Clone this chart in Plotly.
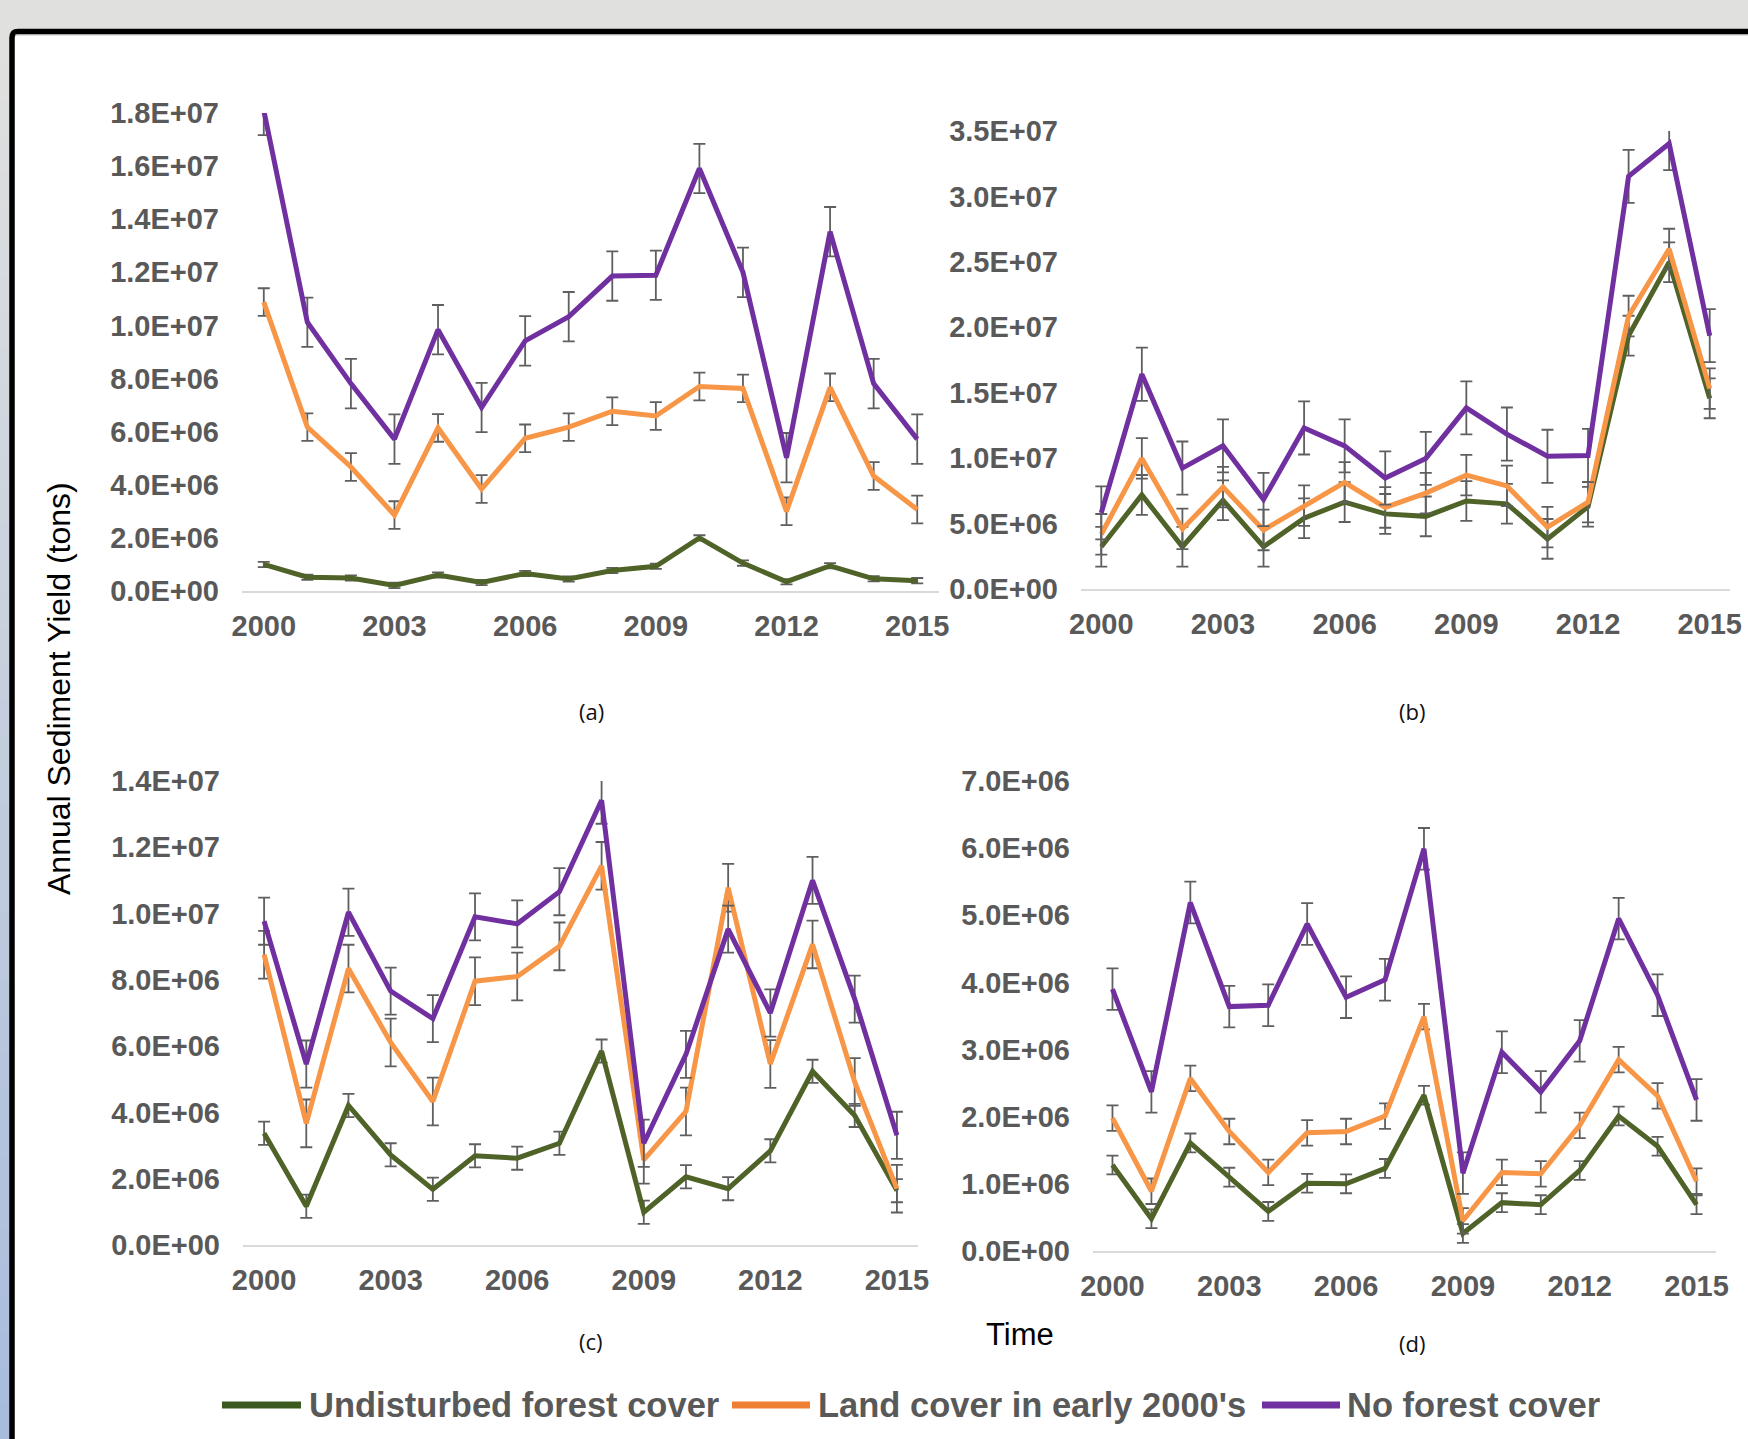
import plotly.graph_objects as go

W, H = 1748, 1439

years = list(range(2000, 2016))
year_ticks = [2000, 2003, 2006, 2009, 2012, 2015]

series_names = ["Undisturbed forest cover", "Land cover in early 2000's", "No forest cover"]

# Panel (a)
a_undisturbed = [1.00e6, 0.52e6, 0.49e6, 0.21e6, 0.60e6, 0.32e6, 0.66e6, 0.45e6,
                 0.77e6, 0.93e6, 2.00e6, 1.05e6, 0.35e6, 0.95e6, 0.46e6, 0.39e6]
a_early2000 = [10.88e6, 6.17e6, 4.67e6, 2.86e6, 6.14e6, 3.84e6, 5.75e6, 6.17e6,
               6.77e6, 6.59e6, 7.70e6, 7.63e6, 3.00e6, 7.67e6, 4.33e6, 3.07e6]
a_noforest = [18.10e6, 10.12e6, 7.81e6, 5.72e6, 9.84e6, 6.91e6, 9.42e6, 10.33e6,
              11.86e6, 11.89e6, 15.91e6, 12.00e6, 5.02e6, 13.53e6, 7.81e6, 5.72e6]
a_err = [0.10e6, 0.52e6, 0.93e6]

# Panel (b)
b_undisturbed = [3.23e6, 7.19e6, 3.23e6, 6.78e6, 3.23e6, 5.41e6, 6.64e6, 5.74e6,
                 5.55e6, 6.73e6, 6.51e6, 3.83e6, 6.29e6, 19.36e6, 24.97e6, 14.57e6]
b_early2000 = [4.18e6, 9.98e6, 4.59e6, 7.79e6, 4.51e6, 6.37e6, 8.15e6, 6.23e6,
               7.33e6, 8.70e6, 7.88e6, 4.73e6, 6.64e6, 20.86e6, 25.98e6, 15.31e6]
b_noforest = [5.82e6, 16.41e6, 9.24e6, 10.94e6, 6.84e6, 12.31e6, 10.94e6, 8.48e6,
              9.98e6, 13.84e6, 11.84e6, 10.14e6, 10.20e6, 31.53e6, 34.04e6, 19.36e6]
b_err = [1.52e6, 1.55e6, 2.03e6]

# Panel (c)
c_undisturbed = [3.37e6, 1.17e6, 4.21e6, 2.72e6, 1.68e6, 2.69e6, 2.62e6, 3.07e6,
                 5.85e6, 0.99e6, 2.06e6, 1.70e6, 2.84e6, 5.24e6, 3.91e6, 1.64e6]
c_early2000 = [8.76e6, 3.67e6, 8.34e6, 6.11e6, 4.33e6, 7.96e6, 8.10e6, 9.01e6,
               11.44e6, 2.57e6, 4.03e6, 10.78e6, 5.46e6, 9.07e6, 4.92e6, 1.70e6]
c_noforest = [9.77e6, 5.46e6, 10.04e6, 7.66e6, 6.83e6, 9.90e6, 9.69e6, 10.66e6,
              13.42e6, 3.07e6, 5.75e6, 9.53e6, 7.00e6, 11.00e6, 7.42e6, 3.31e6]
c_err = [0.35e6, 0.72e6, 0.71e6]

# Panel (d)
d_undisturbed = [1.28e6, 0.48e6, 1.61e6, 1.10e6, 0.59e6, 1.01e6, 1.00e6, 1.23e6,
                 2.32e6, 0.26e6, 0.72e6, 0.69e6, 1.20e6, 2.01e6, 1.56e6, 0.69e6]
d_early2000 = [1.98e6, 0.89e6, 2.57e6, 1.78e6, 1.17e6, 1.76e6, 1.78e6, 2.01e6,
               3.49e6, 0.45e6, 1.17e6, 1.15e6, 1.87e6, 2.85e6, 2.31e6, 1.04e6]
d_noforest = [3.90e6, 2.37e6, 5.19e6, 3.64e6, 3.66e6, 4.87e6, 3.78e6, 4.04e6,
              5.99e6, 1.16e6, 2.96e6, 2.37e6, 3.13e6, 4.95e6, 3.81e6, 2.25e6]
d_err = [0.14e6, 0.19e6, 0.31e6]

# y-axis tick values per panel
a_yticks = [i * 2e6 for i in range(10)]
b_yticks = [i * 5e6 for i in range(8)]
c_yticks = [i * 2e6 for i in range(8)]
d_yticks = [i * 1e6 for i in range(8)]

panel_labels = ["(a)", "(b)", "(c)", "(d)"]

line_colors = ["#4F6228", "#F79646", "#7030A0"]
legend_colors = ["#3B5A1F", "#EF7F32", "#7030A0"]
err_color = "#5F5F5F"
tick_color = "#595959"


def px(x):
    return x / W


def py(y):
    return 1 - y / H


panels = [
    dict(series=[a_undisturbed, a_early2000, a_noforest], err=a_err, yticks=a_yticks,
         box=(242, 939, 113, 591), label_pos=(591, 711)),
    dict(series=[b_undisturbed, b_early2000, b_noforest], err=b_err, yticks=b_yticks,
         box=(1081, 1730, 131, 589), label_pos=(1412, 711)),
    dict(series=[c_undisturbed, c_early2000, c_noforest], err=c_err, yticks=c_yticks,
         box=(243, 918, 781, 1245), label_pos=(591, 1341)),
    dict(series=[d_undisturbed, d_early2000, d_noforest], err=d_err, yticks=d_yticks,
         box=(1093, 1716, 781, 1251), label_pos=(1412, 1343)),
]

fig = go.Figure()
layout = {}
tick_font = dict(family="Liberation Sans, Arial, sans-serif", size=29,
                 color=tick_color, weight="bold")

for i, p in enumerate(panels):
    n = "" if i == 0 else str(i + 1)
    x0, x1, ytop, ybot = p["box"]
    for k, vals in enumerate(p["series"]):
        fig.add_trace(go.Scatter(
            x=years, y=vals, mode="lines", name=series_names[k],
            line=dict(color=line_colors[k], width=5),
            error_y=dict(type="constant", value=p["err"][k], color=err_color,
                         thickness=1.8, width=6),
            xaxis="x" + n, yaxis="y" + n, showlegend=False,
        ))
    yt = p["yticks"]
    layout["xaxis" + n] = dict(
        domain=[px(x0), px(x1)], anchor="y" + n, range=[1999.5, 2015.5],
        tickvals=year_ticks, ticktext=[str(v) for v in year_ticks],
        showgrid=False, zeroline=False, showline=True, linecolor="#D9D9D9",
        linewidth=2, ticks="", tickfont=tick_font, ticklabelstandoff=8,
        automargin=False,
    )
    layout["yaxis" + n] = dict(
        domain=[py(ybot), py(ytop)], anchor="x" + n, range=[0, yt[-1]],
        tickvals=yt, ticktext=[f"{v:.1E}" for v in yt],
        showgrid=False, zeroline=False, showline=False, ticks="",
        tickfont=tick_font, ticklabelstandoff=22, automargin=False,
    )

annotations = []
for i, p in enumerate(panels):
    lx, ly = p["label_pos"]
    annotations.append(dict(
        x=px(lx), y=py(ly), xref="paper", yref="paper", text=panel_labels[i],
        showarrow=False, xanchor="center", yanchor="middle",
        font=dict(family="Open Sans, sans-serif", size=22, color="#111111"),
    ))

annotations.append(dict(
    x=px(59), y=py(689), xref="paper", yref="paper",
    text="Annual Sediment Yield (tons)", textangle=-90, showarrow=False,
    xanchor="center", yanchor="middle",
    font=dict(family="Liberation Sans, Arial, sans-serif", size=32, color="#000000"),
))
annotations.append(dict(
    x=px(1020), y=py(1334), xref="paper", yref="paper", text="Time",
    showarrow=False, xanchor="center", yanchor="middle",
    font=dict(family="Liberation Sans, Arial, sans-serif", size=31, color="#000000"),
))

shapes = []

# legend row
legend_y = 1405
legend_lines = [(222, 301), (732, 810), (1262, 1340)]
legend_text_x = [307, 816, 1345]
for k in range(3):
    lx0, lx1 = legend_lines[k]
    shapes.append(dict(type="line", xref="paper", yref="paper",
                       x0=px(lx0), x1=px(lx1), y0=py(legend_y), y1=py(legend_y),
                       line=dict(color=legend_colors[k], width=7)))
    annotations.append(dict(
        x=px(legend_text_x[k]), y=py(legend_y), xref="paper", yref="paper",
        text=series_names[k], showarrow=False, xanchor="left", yanchor="middle",
        font=dict(family="Liberation Sans, Arial, sans-serif", size=34.5,
                  color=tick_color, weight="bold"),
    ))

# window backdrop: grey band on top and a grey-to-blue strip on the left
shapes.append(dict(type="rect", xref="paper", yref="paper", layer="below",
                   x0=0, x1=1, y0=py(31), y1=1, line=dict(width=0),
                   fillcolor="#E0E0DE"))
top_rgb = (224, 224, 222)
bot_rgb = (168, 188, 221)
n_strips = 40
strip_top = 31
for s in range(n_strips):
    t = s / (n_strips - 1)
    c = tuple(round(top_rgb[j] + (bot_rgb[j] - top_rgb[j]) * t) for j in range(3))
    ya = strip_top + (H - strip_top) * s / n_strips
    yb = strip_top + (H - strip_top) * (s + 1) / n_strips
    shapes.append(dict(type="rect", xref="paper", yref="paper", layer="below",
                       x0=0, x1=px(11), y0=py(yb + 1), y1=py(ya),
                       line=dict(width=0), fillcolor="rgb(%d,%d,%d)" % c))

# black frame with a rounded top-left corner
frame_path = "M {:.6f},{:.6f} L {:.6f},{:.6f} Q {:.6f},{:.6f} {:.6f},{:.6f} L {:.6f},{:.6f}".format(
    px(12), py(H + 5), px(12), py(38), px(12), py(31.5), px(18), py(31.5), px(W + 5), py(31.5))
shapes.append(dict(type="path", xref="paper", yref="paper", path=frame_path,
                   line=dict(color="#000000", width=5.5)))
shapes.append(dict(type="line", xref="paper", yref="paper",
                   x0=px(15), x1=1, y0=py(34.8), y1=py(34.8),
                   line=dict(color="#9A9A9A", width=1)))

fig.update_layout(
    width=W, height=H,
    margin=dict(l=0, r=0, t=0, b=0, pad=0, autoexpand=False),
    paper_bgcolor="#FFFFFF", plot_bgcolor="rgba(0,0,0,0)",
    showlegend=False, annotations=annotations, shapes=shapes,
    **layout,
)

fig.write_html("out.html")
